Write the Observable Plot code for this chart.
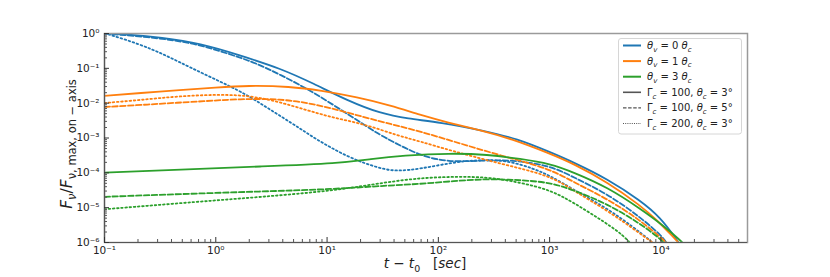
<!DOCTYPE html>
<html><head><meta charset="utf-8">
<script src="https://cdn.jsdelivr.net/npm/d3@7"></script>
<script src="https://cdn.jsdelivr.net/npm/@observablehq/plot@0.6"></script>
<style>
body{margin:0;background:#fff;}
#wrap{position:relative;width:830px;height:277px;}
</style></head><body><div id="wrap"></div>
<script>
// ---- data: t - t0 [sec] and F_nu / F_nu,max,on-axis ----
// theta_v = 0 theta_c
const t_v0_G100_c3 = [0.1,0.171,0.318,0.73,1.67,3.8,7.55,15.2,30.2,52.7,104,254,514,1016,1637,3305,6550,9890,14060,15500];
const F_v0_G100_c3 = [1,0.935,0.77,0.52,0.233,0.1,0.0367,0.0119,0.00505,0.00356,0.00284,0.00164,0.00095,0.00039,0.000202,6.7e-5,1.6e-5,5.3e-6,1.14e-6,7e-7];
const t_v0_G100_c5 = [0.1,0.318,0.73,1.67,2.18,3.8,7.55,15.2,30.2,45.6,69,121,254,445,1016,1637,3305,6550,10520,11430];
const F_v0_G100_c5 = [1,0.743,0.483,0.2,0.15,0.0665,0.0206,0.00495,0.00118,0.000609,0.000314,0.000202,0.000226,0.000237,0.000162,7.5e-5,2.5e-5,5.3e-6,1.42e-6,8.7e-7];
const t_v0_G200_c3 = [0.1,0.113,0.21,0.32,0.48,0.73,1.67,2.52,3.8,5.8,7.55,15.2,30.2,43,69,137,240,418,714,1000,1637,3305,5660,8050,8750];
const F_v0_G200_c3 = [1,0.92,0.483,0.275,0.147,0.076,0.0223,0.0098,0.0043,0.00181,0.00103,0.00028,0.00013,0.000111,0.00013,0.000202,0.000237,0.000226,0.000133,8.4e-5,3.3e-5,9.5e-6,2.75e-6,1.14e-6,8.7e-7];
// theta_v = 1 theta_c
const t_v1_G100_c3 = [0.1,0.21,0.48,1,1.93,4.69,8.73,18.7,37.3,69,121,240,445,1016,1637,3305,6550,9290,12950,14650];
const F_v1_G100_c3 = [0.0161,0.0196,0.0239,0.0282,0.0321,0.0301,0.0231,0.0148,0.00857,0.00457,0.00279,0.00167,0.000966,0.000352,0.000182,5.4e-5,1.15e-5,4.3e-6,1.42e-6,9.3e-7];
const t_v1_G100_c5 = [0.1,0.21,0.48,0.73,1.67,3.8,7.55,15.2,30.2,45.6,69,128.5,361,1016,1637,3305,6550,9890,11430];
const F_v1_G100_c5 = [0.00776,0.00885,0.01045,0.0112,0.0133,0.0133,0.0096,0.0054,0.00297,0.00214,0.00153,0.000847,0.000314,0.00013,5.4e-5,1.8e-5,4.3e-6,1.42e-6,9.3e-7];
const t_v1_G200_c3 = [0.1,0.21,0.48,1.355,2.68,5.42,10.7,21.2,43,69,128.5,361,1016,1637,3305,6550,8930];
const F_v1_G200_c3 = [0.0101,0.0123,0.0161,0.0183,0.01426,0.00766,0.00395,0.00255,0.00118,0.000793,0.000437,0.000182,8.4e-5,3.1e-5,8.3e-6,1.77e-6,8.7e-7];
// theta_v = 3 theta_c
const t_v3_G100_c3 = [0.1,0.48,2.5,13.2,24.6,48.5,128.5,276,547,1016,1637,3305,6550,10520,15000,16250];
const F_v3_G100_c3 = [1.02e-4,1.22e-4,1.52e-4,1.89e-4,2.49e-4,3.14e-4,3.66e-4,3.36e-4,2.52e-4,1.82e-4,1.04e-4,3.87e-5,9.3e-6,3.07e-6,1.14e-6,8.7e-7];
const t_v3_G100_c5 = [0.1,0.48,2.5,11.4,34.9,69,137,276,547,1016,1637,3305,6550,9890,10960];
const F_v3_G100_c5 = [2.05e-5,2.46e-5,2.91e-5,3.39e-5,4.33e-5,4.78e-5,5.82e-5,6.73e-5,6.22e-5,5.27e-5,3.21e-5,1.29e-5,3.44e-6,1.28e-6,8.7e-7];
const t_v3_G200_c3 = [0.1,0.73,2.5,11.4,34.9,69,137,276,547,1016,1637,3305,4600,5430];
const F_v3_G200_c3 = [9.0e-6,1.5e-5,2.02e-5,3.05e-5,5.45e-5,7.1e-5,7.8e-5,7.6e-5,5.27e-5,3.21e-5,1.41e-5,3.44e-6,1.59e-6,8.7e-7];

// tick labels (decades)
const xTicks = [0.1, 1, 10, 100, 1000, 10000];
const yTicks = [1e-6, 1e-5, 1e-4, 1e-3, 1e-2, 1e-1, 1];

const colors = {v0: "#1f77b4", v1: "#ff7f0e", v3: "#2ca02c"};
const dashes = {G100_c3: null, G100_c5: "5.5,2.4", G200_c3: "1.6,2.6"};

const table = {
  v0G100_c3: [t_v0_G100_c3, F_v0_G100_c3], v0G100_c5: [t_v0_G100_c5, F_v0_G100_c5], v0G200_c3: [t_v0_G200_c3, F_v0_G200_c3],
  v1G100_c3: [t_v1_G100_c3, F_v1_G100_c3], v1G100_c5: [t_v1_G100_c5, F_v1_G100_c5], v1G200_c3: [t_v1_G200_c3, F_v1_G200_c3],
  v3G100_c3: [t_v3_G100_c3, F_v3_G100_c3], v3G100_c5: [t_v3_G100_c5, F_v3_G100_c5], v3G200_c3: [t_v3_G200_c3, F_v3_G200_c3]
};
const series = [];
for (const v of ["v0","v1","v3"]) for (const s of ["G100_c3","G100_c5","G200_c3"]) {
  const [ts, fs] = table[v + s];
  series.push({color: colors[v], dash: dashes[s], rows: ts.map((t, i) => ({t, F: fs[i]}))});
}

function minorTicks(lo, hi) {
  const out = [];
  for (let e = Math.floor(Math.log10(lo)); e <= Math.ceil(Math.log10(hi)); e++)
    for (let m = 2; m <= 9; m++) { const v = m * Math.pow(10, e); if (v > lo && v < hi) out.push(v); }
  return out;
}
const sup = {"-":"⁻","0":"⁰","1":"¹","2":"²","3":"³","4":"⁴","5":"⁵","6":"⁶","7":"⁷","8":"⁸","9":"⁹"};
const fmt = d => "10" + String(Math.round(Math.log10(d))).split("").map(c => sup[c]).join("");

const xDomain = [0.1, 6e4], yDomain = [1e-6, 1];

const marks = [];
for (const s of series) {
  marks.push(Plot.line(s.rows, {x: "t", y: "F", stroke: s.color, strokeWidth: 1.8,
    strokeDasharray: s.dash, curve: "basis", clip: true}));
}
marks.push(
  Plot.frame({stroke: "#9a9a9a", strokeWidth: 1.5}),
  Plot.ruleX([xDomain[0]], {stroke: "#555", strokeWidth: 1.2}),
  Plot.ruleY([yDomain[0]], {stroke: "#555", strokeWidth: 1.2}),
  Plot.axisX({ticks: xTicks, tickFormat: fmt, tickSize: 0, tickPadding: 4, label: null}),
  Plot.axisX({ticks: xTicks, tickFormat: () => "", tickSize: 5, dy: -5, label: null, stroke: "#333"}),
  Plot.axisX({ticks: minorTicks(...xDomain), tickFormat: () => "", tickSize: 3, dy: -3, label: null, stroke: "#555"}),
  Plot.axisY({ticks: yTicks, tickFormat: fmt, tickSize: 0, tickPadding: 5, label: null}),
  Plot.axisY({ticks: yTicks, tickFormat: () => "", tickSize: 5, dx: 5, label: null, stroke: "#333"}),
  Plot.axisY({ticks: minorTicks(...yDomain), tickFormat: () => "", tickSize: 3, dx: 3, label: null, stroke: "#555"})
);

const svg = Plot.plot({
  width: 830, height: 277,
  marginLeft: 104, marginRight: 83, marginTop: 33, marginBottom: 35,
  x: {type: "log", domain: xDomain},
  y: {type: "log", domain: yDomain},
  style: {fontFamily: "DejaVu Sans, sans-serif", fontSize: "10.5px", color: "#222", background: "#fff"},
  marks
});
document.getElementById("wrap").appendChild(svg);

// ---- math-style text helper ----
function mathText(g, parts, size, subScale = 0.7) {
  const txt = g.append("text").attr("font-family", "DejaVu Sans, sans-serif").attr("font-size", size)
    .attr("fill", "#222").attr("text-anchor", "start");
  let shift = 0;
  for (const p of parts) {
    const ts = txt.append("tspan").text(p.t);
    if (p.i) ts.attr("font-style", "italic");
    const target = p.sub ? size * 0.28 : 0;
    if (target !== shift) { ts.attr("dy", target - shift); shift = target; }
    if (p.sub) ts.attr("font-size", size * subScale);
  }
  return txt;
}
const root = d3.select(svg);

// axis labels
const xl = root.append("g").attr("transform", "translate(425,268)");
mathText(xl, [{t:"t",i:true},{t:" − "},{t:"t",i:true},{t:"0",sub:true},{t:"\u00a0\u00a0\u00a0["},{t:"sec",i:true},{t:"]"}], 13.5)
  .attr("text-anchor", "middle");
const yl = root.append("g").attr("transform", "translate(72,144) rotate(-90)");
mathText(yl, [{t:"F",i:true},{t:"ν",i:true,sub:true},{t:"/"},{t:"F",i:true},{t:"ν, max, on − axis",sub:true}], 15.5, 0.74)
  .attr("text-anchor", "middle");

// legend
const lg = root.append("g");
lg.append("rect").attr("x", 618.5).attr("y", 38.5).attr("width", 123).attr("height", 95.5)
  .attr("rx", 2.5).attr("fill", "rgba(255,255,255,0.85)").attr("stroke", "#d6d6d6");
const legendRows = [
  {color: colors.v0, dash: null, parts: [{t:"θ",i:true},{t:"v",i:true,sub:true},{t:" = 0 "},{t:"θ",i:true},{t:"c",i:true,sub:true}]},
  {color: colors.v1, dash: null, parts: [{t:"θ",i:true},{t:"v",i:true,sub:true},{t:" = 1 "},{t:"θ",i:true},{t:"c",i:true,sub:true}]},
  {color: colors.v3, dash: null, parts: [{t:"θ",i:true},{t:"v",i:true,sub:true},{t:" = 3 "},{t:"θ",i:true},{t:"c",i:true,sub:true}]},
  {color: "#555", dash: null, parts: [{t:"Γ"},{t:"c",i:true,sub:true},{t:" = 100, "},{t:"θ",i:true},{t:"c",i:true,sub:true},{t:" = 3°"}]},
  {color: "#555", dash: "3.5,1.6", parts: [{t:"Γ"},{t:"c",i:true,sub:true},{t:" = 100, "},{t:"θ",i:true},{t:"c",i:true,sub:true},{t:" = 5°"}]},
  {color: "#555", dash: "1,1.2", parts: [{t:"Γ"},{t:"c",i:true,sub:true},{t:" = 200, "},{t:"θ",i:true},{t:"c",i:true,sub:true},{t:" = 3°"}]}
];
legendRows.forEach((r, i) => {
  const y = 45.5 + i * 15.6;
  const ln = lg.append("line").attr("x1", 623).attr("x2", 641).attr("y1", y).attr("y2", y)
    .attr("stroke", r.color).attr("stroke-width", i < 3 ? 2 : (i === 3 ? 1.6 : 1.1));
  if (r.dash) ln.attr("stroke-dasharray", r.dash);
  const g = lg.append("g").attr("transform", `translate(647,${y + 3.5})`);
  mathText(g, r.parts, 10);
});
</script></body></html>
